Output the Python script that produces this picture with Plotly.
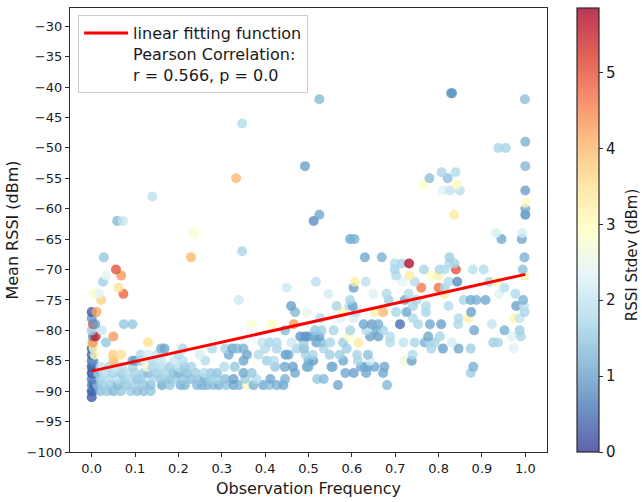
import numpy as np
import plotly.graph_objects as go

# ---- data ----
FREQ = [
    0.0,
    0.0, 0.003, 0.02, 0.035, 0.05, 0.067, 0.09, 0.105, 0.12, 0.136,
    0.0, 0.004, 0.013, 0.025, 0.044, 0.06, 0.08, 0.1, 0.12, 0.136, 0.162, 0.18, 0.205, 0.215, 0.243, 0.255, 0.266, 0.28, 0.293, 0.31, 0.327, 0.34, 0.358, 0.373, 0.396, 0.41, 0.427, 0.442, 0.568, 0.681,
    0.0, 0.005, 0.02, 0.04, 0.06, 0.075, 0.09, 0.105, 0.115, 0.14, 0.16, 0.18, 0.19, 0.21, 0.23, 0.25, 0.26, 0.275, 0.29, 0.308, 0.327, 0.354, 0.38, 0.412, 0.446, 0.52, 0.535,
    0.0, 0.003, 0.006, 0.015, 0.03, 0.05, 0.07, 0.085, 0.1, 0.12, 0.13, 0.15, 0.17, 0.19, 0.2, 0.22, 0.24, 0.26, 0.275, 0.289, 0.35, 0.369, 0.469, 0.585, 0.604, 0.633, 0.672, 0.874,
    0.0, 0.003, 0.02, 0.04, 0.055, 0.07, 0.095, 0.128, 0.14, 0.16, 0.18, 0.2, 0.215, 0.23, 0.306, 0.33, 0.423, 0.445, 0.464, 0.496, 0.5, 0.553, 0.556, 0.621, 0.63, 0.637, 0.652, 0.675, 0.88,
    0.0, 0.004, 0.051, 0.094, 0.101, 0.113, 0.124, 0.14, 0.16, 0.19, 0.21, 0.262, 0.35, 0.404, 0.42, 0.5, 0.511, 0.58, 0.614, 0.642, 0.72, 0.738,
    0.0, 0.007, 0.049, 0.068, 0.113, 0.13, 0.15, 0.2, 0.25, 0.316, 0.358, 0.385, 0.447, 0.454, 0.493, 0.51, 0.549, 0.572, 0.612, 0.637, 0.74,
    0.0, 0.005, 0.16, 0.168, 0.21, 0.278, 0.308, 0.324, 0.335, 0.35, 0.4, 0.427, 0.473, 0.49, 0.535, 0.588, 0.783, 0.81, 0.846, 0.874, 0.973,
    0.0, 0.003, 0.033, 0.13, 0.393, 0.41, 0.427, 0.461, 0.489, 0.518, 0.53, 0.55, 0.58, 0.615, 0.688, 0.719, 0.745, 0.768, 0.78, 0.791, 0.83, 0.926, 0.937,
    0.003, 0.009, 0.05, 0.481, 0.492, 0.5, 0.514, 0.525, 0.592, 0.642, 0.661, 0.688, 0.776, 0.803, 0.969, 0.99,
    0.0, 0.023, 0.446, 0.515, 0.53, 0.558, 0.596, 0.633, 0.657, 0.672, 0.882, 0.952, 0.987,
    0.003, 0.008, 0.074, 0.094, 0.368, 0.416, 0.466, 0.627, 0.646, 0.661, 0.711, 0.753, 0.78, 0.806, 0.845, 0.923,
    0.0, 0.527, 0.573, 0.604, 0.741, 0.846, 0.868, 0.974, 0.987,
    0.0, 0.011, 0.469, 0.496, 0.58, 0.61, 0.653, 0.672, 0.702, 0.726, 0.771, 0.875, 0.998,
    0.46, 0.565, 0.594, 0.602, 0.741, 0.771, 0.823, 0.979, 0.997,
    0.022, 0.339, 0.596, 0.685, 0.722, 0.749, 0.858, 0.874, 0.887, 0.908, 0.995,
    0.007, 0.017, 0.073, 0.546, 0.65, 0.68, 0.731, 0.814, 0.94, 0.977,
    0.062, 0.45, 0.604, 0.76, 0.8, 0.814, 0.952,
    0.026, 0.517, 0.607, 0.632, 0.717, 0.745, 0.823, 0.843, 0.917, 0.934,
    0.034, 0.068, 0.702, 0.733, 0.783, 0.799, 0.998,
    0.056, 0.699, 0.766, 0.802, 0.814, 0.84, 0.879, 0.904, 0.994,
    0.699, 0.715, 0.732, 0.825, 0.837,
    0.028, 0.229, 0.63, 0.669, 0.825, 0.998,
    0.347,
    0.596, 0.606, 0.945, 0.992,
    0.236, 0.933, 0.993,
    0.059, 0.072, 0.512,
    0.525, 0.836, 1.0,
    1.0,
    1.0,
    0.14,
    0.81, 0.826, 0.849, 1.0,
    0.765, 0.842,
    0.333, 0.779, 0.821,
    0.807, 0.839,
    0.492, 1.0,
    0.938, 0.955,
    1.0,
    0.347,
    0.525, 0.999,
    0.829, 0.831,
]

RSSI = [
    -91,
    -90, -90, -90, -90, -90, -90, -90, -90, -90, -90,
    -89, -89, -89, -89, -89, -89, -89, -89, -89, -89, -89, -89, -89, -89, -89, -89, -89, -89, -89, -89, -89, -89, -89, -89, -89, -89, -89, -89, -89, -89,
    -88, -88, -88, -88, -88, -88, -88, -88, -88, -88, -88, -88, -88, -88, -88, -88, -88, -88, -88, -88, -88, -88, -88, -88, -88, -88, -88,
    -87, -87, -87, -87, -87, -87, -87, -87, -87, -87, -87, -87, -87, -87, -87, -87, -87, -87, -87, -87, -87, -87, -87, -87, -87, -87, -87, -87,
    -86, -86, -86, -86, -86, -86, -86, -86, -86, -86, -86, -86, -86, -86, -86, -86, -86, -86, -86, -86, -86, -86, -86, -86, -86, -86, -86, -86, -86,
    -85, -85, -85, -85, -85, -85, -85, -85, -85, -85, -85, -85, -85, -85, -85, -85, -85, -85, -85, -85, -85, -85,
    -84, -84, -84, -84, -84, -84, -84, -84, -84, -84, -84, -84, -84, -84, -84, -84, -84, -84, -84, -84, -84,
    -83, -83, -83, -83, -83, -83, -83, -83, -83, -83, -83, -83, -83, -83, -83, -83, -83, -83, -83, -83, -83,
    -82, -82, -82, -82, -82, -82, -82, -82, -82, -82, -82, -82, -82, -82, -82, -82, -82, -82, -82, -82, -82, -82, -82,
    -81, -81, -81, -81, -81, -81, -81, -81, -81, -81, -81, -81, -81, -81, -81, -81,
    -80, -80, -80, -80, -80, -80, -80, -80, -80, -80, -80, -80, -80,
    -79, -79, -79, -79, -79, -79, -79, -79, -79, -79, -79, -79, -79, -79, -79, -79,
    -78, -78, -78, -78, -78, -78, -78, -78, -78,
    -77, -77, -77, -77, -77, -77, -77, -77, -77, -77, -77, -77, -77,
    -76, -76, -76, -76, -76, -76, -76, -76, -76,
    -75, -75, -75, -75, -75, -75, -75, -75, -75, -75, -75,
    -74, -74, -74, -74, -74, -74, -74, -74, -74, -74,
    -73, -73, -73, -73, -73, -73, -73,
    -72, -72, -72, -72, -72, -72, -72, -72, -72, -72,
    -71, -71, -71, -71, -71, -71, -71,
    -70, -70, -70, -70, -70, -70, -70, -70, -70,
    -69, -69, -69, -69, -69,
    -68, -68, -68, -68, -68, -68,
    -67,
    -65, -65, -65, -65,
    -64, -64, -64,
    -62, -62, -62,
    -61, -61, -61,
    -60,
    -59,
    -58,
    -57, -57, -57, -57,
    -56, -56,
    -55, -55, -55,
    -54, -54,
    -53, -53,
    -50, -50,
    -49,
    -46,
    -42, -42,
    -41, -41,
]

STDEV = [
    0.3,
    0.3, 0.5, 1.4, 1.5, 1.3, 1.5, 1.6, 1.4, 1.4, 1.5,
    0.9, 0.4, 1.4, 1.6, 1.5, 1.3, 1.5, 1.6, 1.5, 1.4, 1.1, 1.5, 1.2, 1.3, 1.3, 1.2, 1.3, 1.4, 1.2, 1.5, 1.1, 1.3, 2.8, 1.2, 1.1, 1.4, 1.2, 1.1, 1.1, 1.3,
    0.6, 0.8, 1.7, 1.8, 1.9, 1.6, 1.8, 1.5, 1.6, 1.7, 1.5, 1.4, 1.6, 1.5, 1.4, 1.5, 1.3, 1.6, 1.7, 1.4, 1.0, 1.6, 1.8, 1.1, 1.2, 1.5, 1.3,
    0.2, 0.4, 0.7, 1.6, 1.9, 1.7, 1.6, 1.9, 1.7, 1.6, 1.4, 1.6, 1.7, 1.5, 1.3, 1.4, 1.6, 1.8, 1.6, 1.5, 1.1, 1.5, 1.1, 1.1, 1.0, 1.1, 1.1, 1.6,
    0.3, 0.5, 2.0, 1.8, 2.1, 1.9, 1.7, 2.8, 1.7, 1.8, 1.6, 1.9, 1.5, 1.7, 1.8, 1.5, 1.5, 1.1, 1.0, 1.1, 1.2, 1.1, 1.2, 1.1, 1.2, 1.1, 1.1, 1.1, 1.2,
    0.6, 0.9, 4.0, 1.1, 1.0, 1.6, 2.7, 1.8, 2.0, 2.1, 1.9, 1.8, 1.1, 1.6, 1.8, 1.2, 1.0, 1.1, 1.7, 2.2, 2.6, 1.0,
    0.4, 3.0, 3.7, 3.5, 1.8, 2.2, 2.0, 1.8, 2.2, 1.1, 1.1, 1.8, 1.0, 1.1, 1.7, 1.7, 1.6, 1.6, 1.7, 1.4, 1.8,
    0.5, 3.0, 1.2, 1.1, 1.7, 1.8, 1.7, 1.1, 1.3, 1.2, 1.8, 1.7, 1.7, 1.4, 1.7, 1.6, 1.7, 1.0, 1.1, 1.6, 2.3,
    3.4, 4.3, 1.5, 3.5, 2.0, 1.7, 1.8, 2.1, 1.6, 1.0, 1.4, 1.7, 1.6, 3.3, 1.8, 2.0, 1.7, 1.2, 1.8, 1.7, 2.2, 1.6, 1.7,
    0.8, 5.5, 4.3, 0.9, 0.9, 0.9, 1.1, 1.0, 2.8, 1.0, 1.0, 1.8, 1.1, 1.7, 2.3, 1.7,
    1.6, 2.0, 1.3, 1.5, 1.6, 1.7, 1.7, 1.8, 1.1, 1.7, 1.1, 1.2, 1.6,
    5.0, 1.0, 1.5, 1.5, 2.8, 2.9, 4.3, 1.1, 1.0, 1.2, 0.5, 1.7, 1.1, 1.0, 1.8, 2.0,
    0.9, 1.8, 2.3, 2.2, 1.8, 1.8, 3.2, 3.1, 2.0,
    0.3, 4.2, 1.3, 2.5, 3.1, 1.9, 3.2, 4.0, 1.7, 1.1, 1.7, 1.0, 1.7,
    1.0, 1.7, 1.8, 1.0, 1.7, 1.8, 1.8, 1.0, 1.9,
    3.7, 2.1, 1.7, 1.6, 1.1, 1.7, 1.7, 1.1, 1.2, 1.1, 1.2,
    3.0, 2.4, 4.8, 2.2, 2.3, 1.8, 1.8, 3.3, 2.3, 1.8,
    3.5, 2.1, 1.0, 4.6, 4.7, 1.7, 1.9,
    1.6, 1.9, 3.2, 1.9, 2.4, 1.8, 1.8, 0.8, 1.7, 3.0,
    2.4, 4.3, 1.8, 3.3, 2.9, 3.2, 3.1,
    5.0, 1.7, 1.7, 1.7, 1.8, 5.0, 1.9, 1.8, 1.4,
    1.8, 1.7, 5.7, 1.8, 1.7,
    1.5, 4.0, 1.1, 1.2, 1.6, 1.2,
    1.7,
    1.1, 1.2, 1.1, 1.1,
    2.8, 2.2, 2.2,
    1.3, 2.0, 0.8,
    1.1, 3.3, 0.8,
    1.1,
    2.9,
    1.9,
    2.3, 2.0, 1.9, 1.0,
    2.9, 3.0,
    4.0, 1.4, 1.4,
    1.7, 1.8,
    1.0, 1.3,
    1.7, 1.7,
    1.2,
    1.8,
    1.3, 1.4,
    1.0, 0.9,
]

FIT_SLOPE = 15.9
FIT_INTERCEPT = -86.7
STDEV_MIN = 0.0
STDEV_MAX = 5.85

X_TICKS = [0.0, 0.1, 0.2, 0.3, 0.4, 0.5, 0.6, 0.7, 0.8, 0.9, 1.0]
Y_TICKS = [-100, -95, -90, -85, -80, -75, -70, -65, -60, -55, -50, -45, -40, -35, -30]
CB_TICKS = [0, 1, 2, 3, 4, 5]

assert len(FREQ) == len(RSSI) == len(STDEV), (len(FREQ), len(RSSI), len(STDEV))

FONT = "DejaVu Sans"
TXT = "#1a1a1a"
AX = "#2b2b2b"
ALPHA = 0.78
RDYLBU_R = [(49, 54, 149), (69, 117, 180), (116, 173, 209), (171, 217, 233),
            (224, 243, 248), (255, 255, 191), (254, 224, 144), (253, 174, 97),
            (244, 109, 67), (215, 48, 39), (165, 0, 38)]
colorscale = [[i / 10, f"rgba({r},{g},{b},{ALPHA})"] for i, (r, g, b) in enumerate(RDYLBU_R)]

fx = np.array([min(FREQ), max(FREQ)])
fy = FIT_INTERCEPT + FIT_SLOPE * fx

fig = go.Figure()
fig.add_trace(go.Scatter(
    x=FREQ, y=RSSI, mode="markers", showlegend=False,
    marker=dict(
        size=10, color=STDEV, colorscale=colorscale, cmin=STDEV_MIN, cmax=STDEV_MAX,
        line=dict(width=0),
        colorbar=dict(
            x=1.063, xanchor="left", xpad=0, y=0.5, yanchor="middle", len=1, lenmode="fraction",
            thickness=22, thicknessmode="pixels", ypad=0,
            outlinewidth=1.2, outlinecolor=AX,
            tickvals=CB_TICKS, ticks="outside", ticklen=4, tickcolor=AX,
            tickfont=dict(family=FONT, size=15, color=TXT),
        ),
    ),
))
fig.add_trace(go.Scatter(
    x=fx, y=fy, mode="lines",
    line=dict(color="#ff0000", width=3),
    name="linear fitting function<br>Pearson Correlation:<br>r = 0.566, p = 0.0",
    showlegend=True,
))

axis_common = dict(
    showline=True, mirror=True, linecolor=AX, linewidth=1.3,
    ticks="outside", ticklen=4, tickcolor=AX, tickwidth=1,
    showgrid=False, zeroline=False,
    tickfont=dict(family=FONT, size=13, color=TXT),
)
fig.update_xaxes(range=[-0.05, 1.05], tickvals=X_TICKS, tickformat=".1f",
                 title=dict(text="Observation Frequency", font=dict(family=FONT, size=16, color=TXT), standoff=8),
                 **axis_common)
fig.update_yaxes(range=[-100, -27], tickvals=Y_TICKS,
                 title=dict(text="Mean RSSI (dBm)", font=dict(family=FONT, size=16, color=TXT), standoff=3),
                 **axis_common)

# colorbar label placed as a rotated text to the right of the colorbar
fig.add_annotation(text="RSSI Stdev (dBm)", xref="paper", yref="paper",
                   x=1.18, y=0.445, xanchor="center", yanchor="middle",
                   textangle=-90, showarrow=False,
                   font=dict(family=FONT, size=15, color=TXT))

fig.update_layout(
    width=642, height=502,
    margin=dict(l=70, r=95, t=8, b=50, autoexpand=False),
    paper_bgcolor="white", plot_bgcolor="white",
    font=dict(family=FONT, color=TXT),
    legend=dict(x=0.017, y=0.984, xanchor="left", yanchor="top",
                bgcolor="white", bordercolor="#cccccc", borderwidth=1,
                itemwidth=44, tracegroupgap=0,
                valign="top", font=dict(family=FONT, size=16, color=TXT)),
)

fig.write_html("out.html", config={"displayModeBar": False},
               post_script="document.body.style.margin='0';")
